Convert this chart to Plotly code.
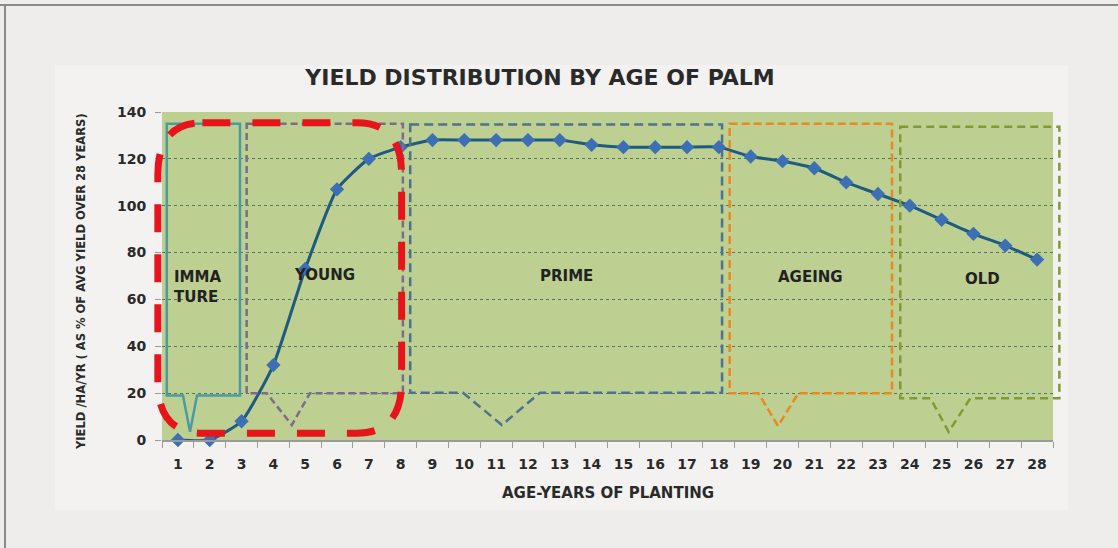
import plotly.graph_objects as go

# ── Données ──────────────────────────────────────────────────────────────
ages = list(range(1, 29))
yield_pct = [0, 0, 8, 32, 73, 107, 120, 125, 128, 128, 128, 128, 128, 126,
             125, 125, 125, 125, 121, 119, 116, 110, 105, 100, 94, 88, 83, 77]

y_ticks = [0, 20, 40, 60, 80, 100, 120, 140]

stage_names = ["IMMA<br>TURE", "YOUNG", "PRIME", "AGEING", "OLD"]
stage_start = [1, 3, 8, 18, 23]
stage_end = [3, 8, 18, 23, 28]

# ── Mise en page (pixels) ────────────────────────────────────────────────
W, H = 1118, 548
L, R, T, B = 162, 65, 112, 108
PW, PH = W - L - R, H - T - B
XR = [0.5, 28.5]
YR = [0, 140]

def dx(x):  # donnée -> fraction papier
    return (x - XR[0]) / (XR[1] - XR[0])

def dy(y):
    return (y - YR[0]) / (YR[1] - YR[0])

def px(p):  # pixel -> fraction papier
    return (p - L) / PW

def py(p):
    return (H - B - p) / PH

# géométrie des bulles : (x0, x1, haut, bas, v_gauche, v_pointe, v_droite, v_bas)
bubbles = [
    (0.65, 2.95, 135, 19, 1.16, 1.38, 1.60, 3.5),
    (3.16, 8.07, 135, 20, 3.79, 4.58, 5.15, 6.4),
    (8.30, 18.1, 134.7, 20.2, 9.96, 11.18, 12.38, 6.4),
    (18.34, 23.44, 135, 20, 19.24, 19.86, 20.5, 6.0),
    (23.70, 28.70, 133.7, 17.8, 24.65, 25.22, 25.9, 3.5),
]
bubble_style = [
    dict(color="#4a9ca0", width=2.5, dash="solid"),
    dict(color="#7b6c8c", width=2.5, dash="7px,4px"),
    dict(color="#4e7190", width=2.5, dash="9px,5px"),
    dict(color="#e88a22", width=2.5, dash="8px,4px"),
    dict(color="#7f9c32", width=2.5, dash="8px,5px"),
]
label_pos = [(0.81, 65.5), (5.62, 70.4), (13.2, 70), (20.87, 69.7), (26.28, 68.7)]

fig = go.Figure()

fig.add_trace(go.Scatter(
    x=ages, y=yield_pct,
    mode="lines+markers",
    line=dict(color="#1f5a80", width=3, shape="spline", smoothing=0.5),
    marker=dict(symbol="diamond", size=11, color="#3c6fb3"),
    cliponaxis=False,
    showlegend=False,
))

shapes = []
# cadre et panneau
shapes.append(dict(type="rect", xref="paper", yref="paper",
                   x0=px(55), x1=px(1068), y0=py(510), y1=py(65),
                   fillcolor="#f3f2f1", line=dict(width=0), layer="below"))
shapes.append(dict(type="rect", xref="paper", yref="paper",
                   x0=0, x1=1, y0=0, y1=1,
                   fillcolor="#bdcf91", line=dict(width=0), layer="below"))
shapes.append(dict(type="line", xref="paper", yref="paper",
                   x0=px(0), x1=px(W), y0=py(5), y1=py(5),
                   line=dict(color="#8a8a8a", width=2), layer="below"))
shapes.append(dict(type="line", xref="paper", yref="paper",
                   x0=px(5), x1=px(5), y0=py(5), y1=py(H),
                   line=dict(color="#8a8a8a", width=2), layer="below"))

# bulles des stades
for (x0, x1, top, bot, vl, vt, vr, vb), st in zip(bubbles, bubble_style):
    path = (f"M {dx(x0)},{dy(top)} L {dx(x1)},{dy(top)} L {dx(x1)},{dy(bot)} "
            f"L {dx(vr)},{dy(bot)} L {dx(vt)},{dy(vb)} L {dx(vl)},{dy(bot)} "
            f"L {dx(x0)},{dy(bot)} Z")
    shapes.append(dict(type="path", xref="paper", yref="paper", path=path,
                       line=st, layer="above"))

# cadre rouge arrondi
rx0, rx1, ry0, ry1 = 0.37, 8.03, 2.9, 135.4
cx, cy = 1.4, 22
red = (f"M {dx(rx0 + cx)},{dy(ry1)} L {dx(rx1 - cx)},{dy(ry1)} "
       f"Q {dx(rx1)},{dy(ry1)} {dx(rx1)},{dy(ry1 - cy)} "
       f"L {dx(rx1)},{dy(ry0 + cy)} "
       f"Q {dx(rx1)},{dy(ry0)} {dx(rx1 - cx)},{dy(ry0)} "
       f"L {dx(rx0 + cx)},{dy(ry0)} "
       f"Q {dx(rx0)},{dy(ry0)} {dx(rx0)},{dy(ry0 + cy)} "
       f"L {dx(rx0)},{dy(ry1 - cy)} "
       f"Q {dx(rx0)},{dy(ry1)} {dx(rx0 + cx)},{dy(ry1)} Z")
shapes.append(dict(type="path", xref="paper", yref="paper", path=red,
                   line=dict(color="#e8141b", width=7, dash="28px,22px"),
                   layer="above"))

# étiquettes des stades
for name, (lx, ly) in zip(stage_names, label_pos):
    fig.add_annotation(x=lx, y=ly, xref="x", yref="y", text=name,
                       showarrow=False,
                       xanchor="left" if "IMMA" in name else "center",
                       yanchor="middle", align="left",
                       font=dict(family="DejaVu Sans", size=15, color="#222222",
                                 weight="bold"))

fig.add_annotation(x=0.5, y=py(493), xref="paper", yref="paper",
                   xanchor="center", yanchor="middle",
                   text="AGE-YEARS OF PLANTING", showarrow=False,
                   font=dict(family="DejaVu Sans", size=15, color="#2a2a2a",
                             weight="bold"))
fig.add_annotation(x=px(80), y=py(282), xref="paper", yref="paper",
                   xanchor="center", yanchor="middle",
                   text="YIELD /HA/YR ( AS % OF AVG YIELD OVER 28 YEARS)",
                   textangle=-90, showarrow=False,
                   font=dict(family="DejaVu Sans Condensed, Liberation Sans Narrow, DejaVu Sans",
                             size=12.8, color="#2a2a2a", weight="bold"))

fig.update_xaxes(
    range=XR, tickvals=ages, ticktext=[str(a) for a in ages],
    ticks="", showgrid=False, showline=True, linecolor="#9a9a9a", linewidth=1.5,
    minor=dict(tick0=0.5, dtick=1, ticks="outside", ticklen=6,
               tickcolor="#9a9a9a", showgrid=False),
    tickfont=dict(family="DejaVu Sans", size=14, color="#2a2a2a", weight="bold"),
    ticklabelstandoff=10, zeroline=False,
)
fig.update_yaxes(
    range=YR, tickvals=y_ticks, ticks="outside", ticklen=6, tickcolor="#9a9a9a",
    showgrid=True, gridcolor="#4d7a68", gridwidth=1, griddash="3px,3px",
    zeroline=False, showline=False,
    tickfont=dict(family="DejaVu Sans", size=14, color="#2a2a2a", weight="bold"),
    ticklabelstandoff=6,
)

fig.update_layout(
    width=W, height=H,
    shapes=shapes,
    title=dict(text="YIELD DISTRIBUTION BY AGE OF PALM",
               x=540 / W, xanchor="center", y=1 - 77 / H, yanchor="middle",
               yref="container",
               font=dict(family="DejaVu Sans", size=22, color="#2a2a2a",
                         weight="bold")),
    paper_bgcolor="#efedec",
    plot_bgcolor="rgba(0,0,0,0)",
    margin=dict(l=L, r=R, t=T, b=B),
    showlegend=False,
)

fig.write_html("out.html", config={"displayModeBar": False},
               post_script="document.body.style.margin='0';")
